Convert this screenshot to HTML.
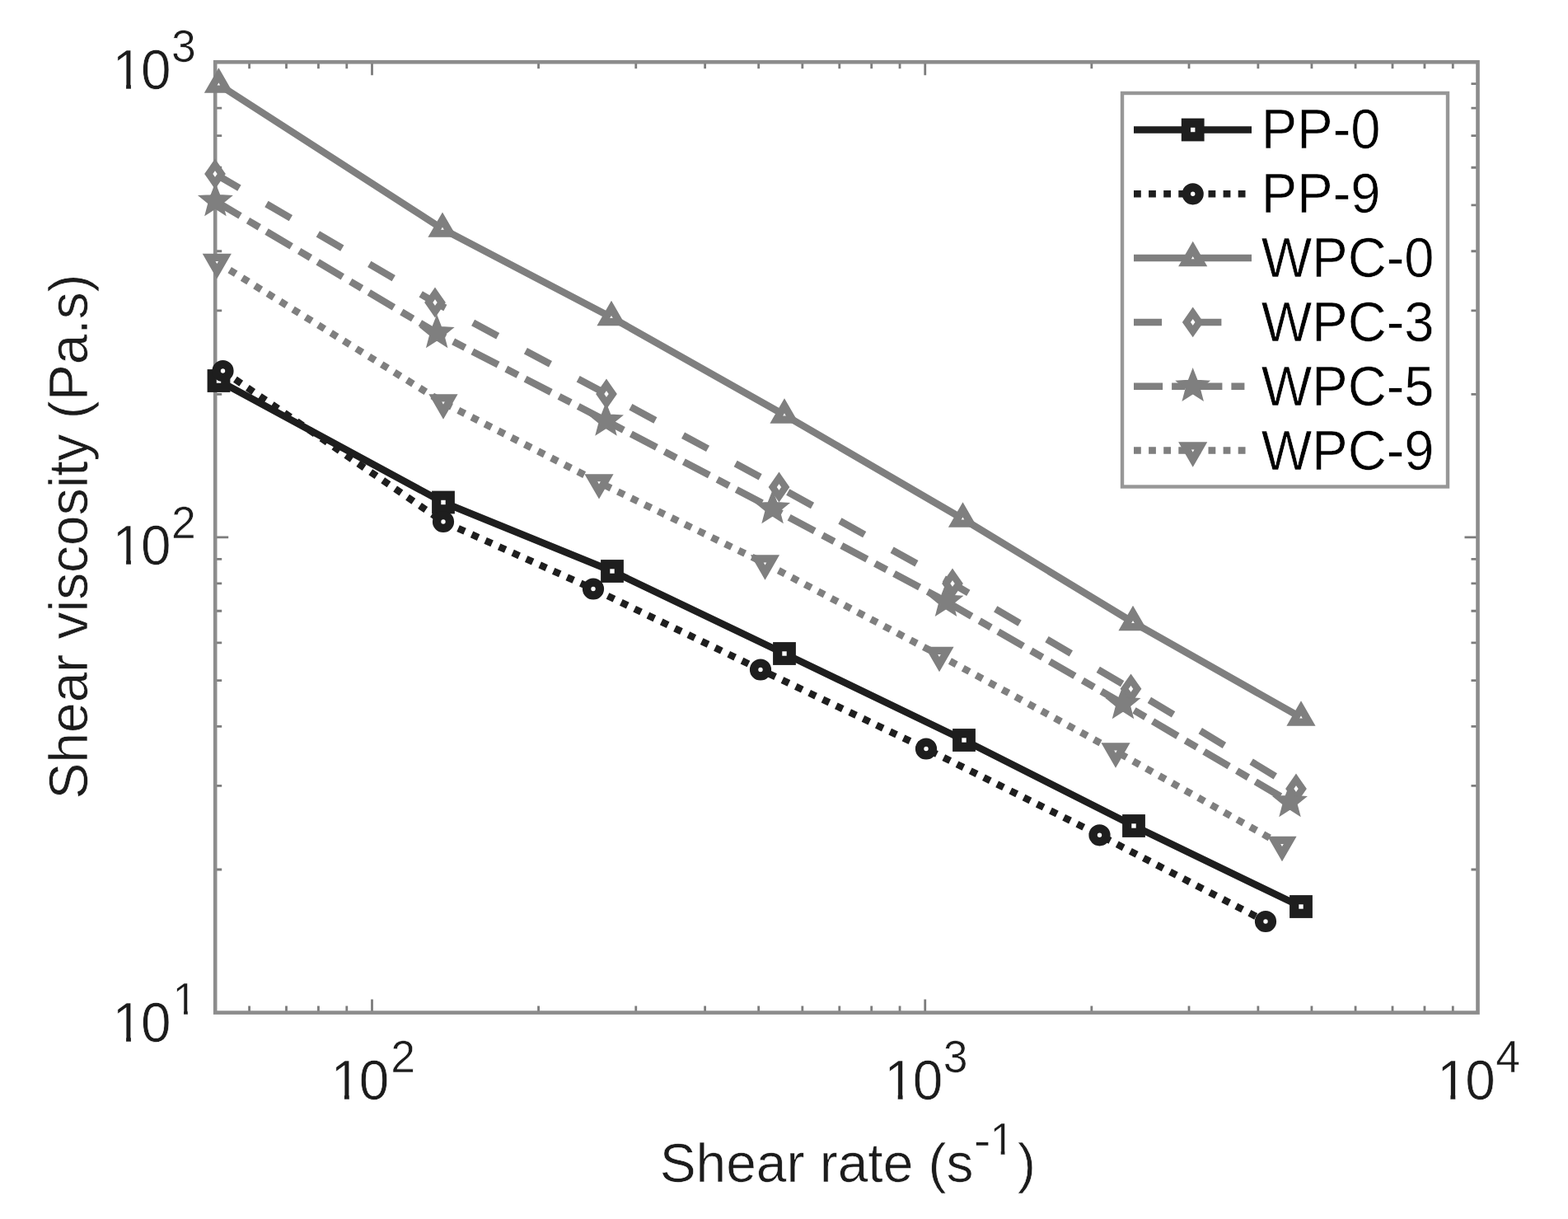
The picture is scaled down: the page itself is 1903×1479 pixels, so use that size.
<!DOCTYPE html><html><head><meta charset="utf-8"><title>Shear viscosity vs shear rate</title><style>html,body{margin:0;padding:0;background:#fff;overflow:hidden}svg{display:block}text{font-family:'Liberation Sans', Arial, Helvetica, sans-serif;stroke:#fff;stroke-width:0.6px}</style></head><body>
<div id="w">
<svg width="1903" height="1479" viewBox="0 0 1903 1479">
<rect width="1903" height="1479" fill="#fff"/>
<g fill="none" stroke="#8c8c8c"><path d="M302.58 1228.6V1220.6M302.58 75.3V83.3M347.52 1228.6V1220.6M347.52 75.3V83.3M386.45 1228.6V1220.6M386.45 75.3V83.3M420.79 1228.6V1220.6M420.79 75.3V83.3M451.5 1228.6V1212.6M451.5 75.3V91.3M653.57 1228.6V1220.6M653.57 75.3V83.3M771.77 1228.6V1220.6M771.77 75.3V83.3M855.63 1228.6V1220.6M855.63 75.3V83.3M920.68 1228.6V1220.6M920.68 75.3V83.3M973.83 1228.6V1220.6M973.83 75.3V83.3M1018.77 1228.6V1220.6M1018.77 75.3V83.3M1057.7 1228.6V1220.6M1057.7 75.3V83.3M1092.04 1228.6V1220.6M1092.04 75.3V83.3M1122.75 1228.6V1212.6M1122.75 75.3V91.3M1324.82 1228.6V1220.6M1324.82 75.3V83.3M1443.02 1228.6V1220.6M1443.02 75.3V83.3M1526.88 1228.6V1220.6M1526.88 75.3V83.3M1591.93 1228.6V1220.6M1591.93 75.3V83.3M1645.08 1228.6V1220.6M1645.08 75.3V83.3M1690.02 1228.6V1220.6M1690.02 75.3V83.3M1728.95 1228.6V1220.6M1728.95 75.3V83.3M1763.29 1228.6V1220.6M1763.29 75.3V83.3M261.2 1055.01H269.2M1793.5 1055.01H1785.5M261.2 953.47H269.2M1793.5 953.47H1785.5M261.2 881.42H269.2M1793.5 881.42H1785.5M261.2 825.54H269.2M1793.5 825.54H1785.5M261.2 779.88H269.2M1793.5 779.88H1785.5M261.2 741.27H269.2M1793.5 741.27H1785.5M261.2 707.83H269.2M1793.5 707.83H1785.5M261.2 678.34H269.2M1793.5 678.34H1785.5M261.2 651.95H277.2M1793.5 651.95H1777.5M261.2 478.36H269.2M1793.5 478.36H1785.5M261.2 376.82H269.2M1793.5 376.82H1785.5M261.2 304.77H269.2M1793.5 304.77H1785.5M261.2 248.89H269.2M1793.5 248.89H1785.5M261.2 203.23H269.2M1793.5 203.23H1785.5M261.2 164.62H269.2M1793.5 164.62H1785.5M261.2 131.18H269.2M1793.5 131.18H1785.5M261.2 101.69H269.2M1793.5 101.69H1785.5" stroke-width="2.8" stroke="#7c7c7c"/>
<rect x="261.2" y="75.3" width="1532.3" height="1153.3" stroke-width="4.6"/></g>
<path d="M265.5 462 L538 609.5 L743 693 L952 793 L1170 898 L1376 1002 L1579 1100" fill="none" stroke="#1e1e1e" stroke-width="8.5" stroke-linejoin="round"/>
<rect x="257.2" y="453.7" width="16.6" height="16.6" fill="#fff" stroke="#1e1e1e" stroke-width="11.2"/>
<rect x="529.7" y="601.2" width="16.6" height="16.6" fill="#fff" stroke="#1e1e1e" stroke-width="11.2"/>
<rect x="734.7" y="684.7" width="16.6" height="16.6" fill="#fff" stroke="#1e1e1e" stroke-width="11.2"/>
<rect x="943.7" y="784.7" width="16.6" height="16.6" fill="#fff" stroke="#1e1e1e" stroke-width="11.2"/>
<rect x="1161.7" y="889.7" width="16.6" height="16.6" fill="#fff" stroke="#1e1e1e" stroke-width="11.2"/>
<rect x="1367.7" y="993.7" width="16.6" height="16.6" fill="#fff" stroke="#1e1e1e" stroke-width="11.2"/>
<rect x="1570.7" y="1091.7" width="16.6" height="16.6" fill="#fff" stroke="#1e1e1e" stroke-width="11.2"/>
<path d="M270.5 450 L538 633 L720 714.5 L923 812.5 L1124 908.5 L1334.5 1013.3 L1536 1118" fill="none" stroke="#1e1e1e" stroke-width="8.5" stroke-dasharray="8.8 9.3" stroke-linejoin="round"/>
<circle cx="270.5" cy="450" r="7.9" fill="#fff" stroke="#1e1e1e" stroke-width="10.4"/>
<circle cx="538" cy="633" r="7.9" fill="#fff" stroke="#1e1e1e" stroke-width="10.4"/>
<circle cx="720" cy="714.5" r="7.9" fill="#fff" stroke="#1e1e1e" stroke-width="10.4"/>
<circle cx="923" cy="812.5" r="7.9" fill="#fff" stroke="#1e1e1e" stroke-width="10.4"/>
<circle cx="1124" cy="908.5" r="7.9" fill="#fff" stroke="#1e1e1e" stroke-width="10.4"/>
<circle cx="1334.5" cy="1013.3" r="7.9" fill="#fff" stroke="#1e1e1e" stroke-width="10.4"/>
<circle cx="1536" cy="1118" r="7.9" fill="#fff" stroke="#1e1e1e" stroke-width="10.4"/>
<path d="M265.4 102.5 L537 277.7 L742 385 L952 503.5 L1168.5 629.5 L1375 755 L1579 870.5" fill="none" stroke="#7f7f7f" stroke-width="8.5" stroke-linejoin="round"/>
<polygon points="265.4,91.3 275.1,108.1 255.7,108.1" fill="#fff" stroke="#7f7f7f" stroke-width="9.1" stroke-linejoin="miter"/>
<polygon points="537,266.5 546.7,283.3 527.3,283.3" fill="#fff" stroke="#7f7f7f" stroke-width="9.1" stroke-linejoin="miter"/>
<polygon points="742,373.8 751.7,390.6 732.3,390.6" fill="#fff" stroke="#7f7f7f" stroke-width="9.1" stroke-linejoin="miter"/>
<polygon points="952,492.3 961.7,509.1 942.3,509.1" fill="#fff" stroke="#7f7f7f" stroke-width="9.1" stroke-linejoin="miter"/>
<polygon points="1168.5,618.3 1178.2,635.1 1158.8,635.1" fill="#fff" stroke="#7f7f7f" stroke-width="9.1" stroke-linejoin="miter"/>
<polygon points="1375,743.8 1384.7,760.6 1365.3,760.6" fill="#fff" stroke="#7f7f7f" stroke-width="9.1" stroke-linejoin="miter"/>
<polygon points="1579,859.3 1588.7,876.1 1569.3,876.1" fill="#fff" stroke="#7f7f7f" stroke-width="9.1" stroke-linejoin="miter"/>
<path d="M261 211 L528 367 L736 478 L945.5 591 L1156 708 L1372.5 835.8 L1573 957" fill="none" stroke="#7f7f7f" stroke-width="8.5" stroke-dasharray="34.1 38.2" stroke-linejoin="round"/>
<polygon points="261,199.85 268.8,211 261,222.15 253.2,211" fill="#fff" stroke="#7f7f7f" stroke-width="8.3" stroke-linejoin="miter"/>
<polygon points="528,355.85 535.8,367 528,378.15 520.2,367" fill="#fff" stroke="#7f7f7f" stroke-width="8.3" stroke-linejoin="miter"/>
<polygon points="736,466.85 743.8,478 736,489.15 728.2,478" fill="#fff" stroke="#7f7f7f" stroke-width="8.3" stroke-linejoin="miter"/>
<polygon points="945.5,579.85 953.3,591 945.5,602.15 937.7,591" fill="#fff" stroke="#7f7f7f" stroke-width="8.3" stroke-linejoin="miter"/>
<polygon points="1156,696.85 1163.8,708 1156,719.15 1148.2,708" fill="#fff" stroke="#7f7f7f" stroke-width="8.3" stroke-linejoin="miter"/>
<polygon points="1372.5,824.65 1380.3,835.8 1372.5,846.95 1364.7,835.8" fill="#fff" stroke="#7f7f7f" stroke-width="8.3" stroke-linejoin="miter"/>
<polygon points="1573,945.85 1580.8,957 1573,968.15 1565.2,957" fill="#fff" stroke="#7f7f7f" stroke-width="8.3" stroke-linejoin="miter"/>
<path d="M261.4 244 L530.2 404 L735.5 510.5 L937.6 617 L1148 729.7 L1363 854 L1565.5 973" fill="none" stroke="#7f7f7f" stroke-width="8.5" stroke-dasharray="35.1 11 16 10.2" stroke-linejoin="round"/>
<polygon points="261.4,223.5 266.58,236.87 280.9,237.67 269.78,246.72 273.45,260.58 261.4,252.81 249.35,260.58 253.02,246.72 241.9,237.67 256.22,236.87" fill="#7f7f7f" stroke="#7f7f7f" stroke-width="1.5" stroke-linejoin="miter"/>
<polygon points="530.2,383.5 535.38,396.87 549.7,397.67 538.58,406.72 542.25,420.58 530.2,412.81 518.15,420.58 521.82,406.72 510.7,397.67 525.02,396.87" fill="#7f7f7f" stroke="#7f7f7f" stroke-width="1.5" stroke-linejoin="miter"/>
<polygon points="735.5,490 740.68,503.37 755,504.17 743.88,513.22 747.55,527.08 735.5,519.32 723.45,527.08 727.12,513.22 716,504.17 730.32,503.37" fill="#7f7f7f" stroke="#7f7f7f" stroke-width="1.5" stroke-linejoin="miter"/>
<polygon points="937.6,596.5 942.78,609.87 957.1,610.67 945.98,619.72 949.65,633.58 937.6,625.82 925.55,633.58 929.22,619.72 918.1,610.67 932.42,609.87" fill="#7f7f7f" stroke="#7f7f7f" stroke-width="1.5" stroke-linejoin="miter"/>
<polygon points="1148,709.2 1153.18,722.57 1167.5,723.37 1156.38,732.42 1160.05,746.28 1148,738.52 1135.95,746.28 1139.62,732.42 1128.5,723.37 1142.82,722.57" fill="#7f7f7f" stroke="#7f7f7f" stroke-width="1.5" stroke-linejoin="miter"/>
<polygon points="1363,833.5 1368.18,846.87 1382.5,847.67 1371.38,856.72 1375.05,870.58 1363,862.82 1350.95,870.58 1354.62,856.72 1343.5,847.67 1357.82,846.87" fill="#7f7f7f" stroke="#7f7f7f" stroke-width="1.5" stroke-linejoin="miter"/>
<polygon points="1565.5,952.5 1570.68,965.87 1585,966.67 1573.88,975.72 1577.55,989.58 1565.5,981.82 1553.45,989.58 1557.12,975.72 1546,966.67 1560.32,965.87" fill="#7f7f7f" stroke="#7f7f7f" stroke-width="1.5" stroke-linejoin="miter"/>
<path d="M263.3 318 L538 488.5 L727 585.3 L928.5 683.5 L1140 795 L1354 911.5 L1556 1025" fill="none" stroke="#7f7f7f" stroke-width="8.5" stroke-dasharray="8.8 9.3" stroke-linejoin="round"/>
<polygon points="263.3,329.2 273,312.4 253.6,312.4" fill="#fff" stroke="#7f7f7f" stroke-width="9.1" stroke-linejoin="miter"/>
<polygon points="538,499.7 547.7,482.9 528.3,482.9" fill="#fff" stroke="#7f7f7f" stroke-width="9.1" stroke-linejoin="miter"/>
<polygon points="727,596.5 736.7,579.7 717.3,579.7" fill="#fff" stroke="#7f7f7f" stroke-width="9.1" stroke-linejoin="miter"/>
<polygon points="928.5,694.7 938.2,677.9 918.8,677.9" fill="#fff" stroke="#7f7f7f" stroke-width="9.1" stroke-linejoin="miter"/>
<polygon points="1140,806.2 1149.7,789.4 1130.3,789.4" fill="#fff" stroke="#7f7f7f" stroke-width="9.1" stroke-linejoin="miter"/>
<polygon points="1354,922.7 1363.7,905.9 1344.3,905.9" fill="#fff" stroke="#7f7f7f" stroke-width="9.1" stroke-linejoin="miter"/>
<polygon points="1556,1036.2 1565.7,1019.4 1546.3,1019.4" fill="#fff" stroke="#7f7f7f" stroke-width="9.1" stroke-linejoin="miter"/>
<text clip-path="url(#c657)" transform="translate(136.58 107.5) scale(1 1.04)" font-size="65.7" fill="#1c1c1c">1</text><text transform="translate(171.01 107.5) scale(1 1.04)" font-size="65.7" fill="#1c1c1c">0</text>
<text transform="translate(207.9 74.9) scale(1 1.04)" font-size="53.5" fill="#1c1c1c">3</text>
<text clip-path="url(#c657)" transform="translate(136.58 685.3) scale(1 1.04)" font-size="65.7" fill="#1c1c1c">1</text><text transform="translate(171.01 685.3) scale(1 1.04)" font-size="65.7" fill="#1c1c1c">0</text>
<text transform="translate(207.9 652.7) scale(1 1.04)" font-size="53.5" fill="#1c1c1c">2</text>
<text clip-path="url(#c657)" transform="translate(136.58 1263.5) scale(1 1.04)" font-size="65.7" fill="#1c1c1c">1</text><text transform="translate(171.01 1263.5) scale(1 1.04)" font-size="65.7" fill="#1c1c1c">0</text>
<text clip-path="url(#c535)" transform="translate(209.61 1230.9) scale(1 1.04)" font-size="53.5" fill="#1c1c1c">1</text>
<text clip-path="url(#c657)" transform="translate(401.43 1333.5) scale(1 1.04)" font-size="65.7" fill="#1c1c1c">1</text><text transform="translate(435.86 1333.5) scale(1 1.04)" font-size="65.7" fill="#1c1c1c">0</text>
<text transform="translate(474.2 1300.9) scale(1 1.04)" font-size="53.5" fill="#1c1c1c">2</text>
<text clip-path="url(#c657)" transform="translate(1073.23 1333.5) scale(1 1.04)" font-size="65.7" fill="#1c1c1c">1</text><text transform="translate(1107.66 1333.5) scale(1 1.04)" font-size="65.7" fill="#1c1c1c">0</text>
<text transform="translate(1144.8 1300.9) scale(1 1.04)" font-size="53.5" fill="#1c1c1c">3</text>
<text clip-path="url(#c657)" transform="translate(1743.93 1333.5) scale(1 1.04)" font-size="65.7" fill="#1c1c1c">1</text><text transform="translate(1778.36 1333.5) scale(1 1.04)" font-size="65.7" fill="#1c1c1c">0</text>
<text transform="translate(1815.2 1300.9) scale(1 1.04)" font-size="53.5" fill="#1c1c1c">4</text>
<text transform="translate(800.63 1433.9)" font-size="65.9" fill="#1c1c1c">Shear rate (s</text>
<text transform="translate(1181.6 1402.7) scale(1.2 1.04)" font-size="53" fill="#1c1c1c">-</text>
<text clip-path="url(#c530)" transform="translate(1201.41 1401) scale(1 1.04)" font-size="53" fill="#1c1c1c">1</text>
<text transform="translate(1234.9 1433.9)" font-size="65.9" fill="#1c1c1c">)</text>
<text transform="translate(106.4 969.57) rotate(-90)" font-size="65.9" fill="#1c1c1c">Shear viscosity (Pa.s)</text>
<rect x="1362" y="113" width="395" height="477.5" fill="#fff" stroke="#979797" stroke-width="4.4"/>
<path d="M1376 157.5H1519" stroke="#1e1e1e" stroke-width="8.5"/>
<rect x="1439.4" y="149.2" width="16.6" height="16.6" fill="#fff" stroke="#1e1e1e" stroke-width="11.2"/>
<text transform="translate(1530.8 180) scale(1 1.04)" font-size="65.1" fill="#000">PP-0</text>
<path d="M1376 235.3H1519" stroke="#1e1e1e" stroke-width="8.5" stroke-dasharray="8.8 9.3"/>
<circle cx="1447.7" cy="235.3" r="7.9" fill="#fff" stroke="#1e1e1e" stroke-width="10.4"/>
<text transform="translate(1530.8 258) scale(1 1.04)" font-size="65.1" fill="#000">PP-9</text>
<path d="M1376 313.1H1519" stroke="#7f7f7f" stroke-width="8.5"/>
<polygon points="1447.7,301.9 1457.4,318.7 1438,318.7" fill="#fff" stroke="#7f7f7f" stroke-width="9.1" stroke-linejoin="miter"/>
<text transform="translate(1530.8 336) scale(1 1.04)" font-size="65.1" fill="#000">WPC-0</text>
<path d="M1376 390.9H1519" stroke="#7f7f7f" stroke-width="8.5" stroke-dasharray="34.1 38.2"/>
<polygon points="1447.7,379.75 1455.5,390.9 1447.7,402.05 1439.9,390.9" fill="#fff" stroke="#7f7f7f" stroke-width="8.3" stroke-linejoin="miter"/>
<text transform="translate(1530.8 414) scale(1 1.04)" font-size="65.1" fill="#000">WPC-3</text>
<path d="M1376 468.7H1519" stroke="#7f7f7f" stroke-width="8.5" stroke-dasharray="35.1 11 16 10.2"/>
<polygon points="1447.7,448.2 1452.88,461.57 1467.2,462.37 1456.08,471.42 1459.75,485.28 1447.7,477.51 1435.65,485.28 1439.32,471.42 1428.2,462.37 1442.52,461.57" fill="#7f7f7f" stroke="#7f7f7f" stroke-width="1.5" stroke-linejoin="miter"/>
<text transform="translate(1530.8 492) scale(1 1.04)" font-size="65.1" fill="#000">WPC-5</text>
<path d="M1376 546.5H1519" stroke="#7f7f7f" stroke-width="8.5" stroke-dasharray="8.8 9.3"/>
<polygon points="1447.7,557.7 1457.4,540.9 1438,540.9" fill="#fff" stroke="#7f7f7f" stroke-width="9.1" stroke-linejoin="miter"/>
<text transform="translate(1530.8 570) scale(1 1.04)" font-size="65.1" fill="#000">WPC-9</text>
<defs><clipPath id="c657" clipPathUnits="userSpaceOnUse"><path d="M-20 -65.7H65.7V-6.11H-20ZM16.52 -6.91H22.33V6H16.52Z"/></clipPath><clipPath id="c535" clipPathUnits="userSpaceOnUse"><path d="M-20 -53.5H53.5V-5.2H-20ZM13.45 -6H18.18V6H13.45Z"/></clipPath><clipPath id="c530" clipPathUnits="userSpaceOnUse"><path d="M-20 -53H53V-5.16H-20ZM13.33 -5.96H18.01V6H13.33Z"/></clipPath></defs>
</svg></div></body></html>
